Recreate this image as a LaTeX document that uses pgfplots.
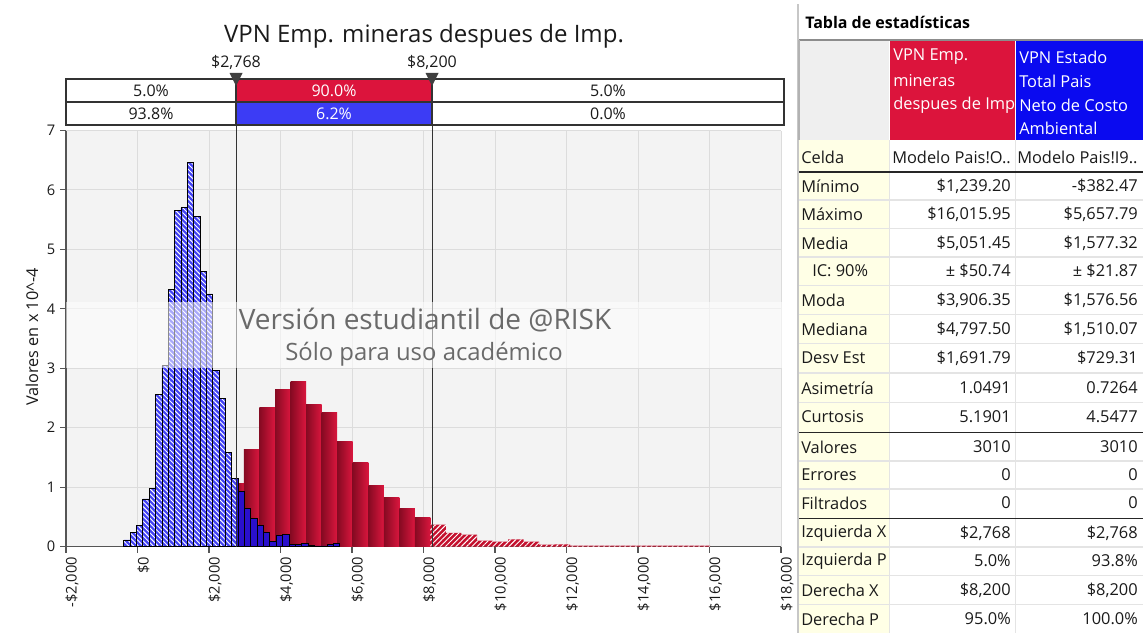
\documentclass[border=0pt]{standalone}
\usepackage{fontspec}
\setmainfont{Open Sans}
\usepackage{pgfplots}
\pgfplotsset{compat=1.18}
\usetikzlibrary{patterns.meta}

\definecolor{bggray}{HTML}{F3F3F3}
\definecolor{gridgray}{HTML}{DCDCDC}
\definecolor{axisgray}{HTML}{555555}
\definecolor{crimsoncol}{HTML}{DC143C}
\definecolor{cellblue}{HTML}{3C3CF5}
\definecolor{hdrblue}{HTML}{0A0AF0}
\definecolor{bluehatch}{HTML}{4242F4}
\definecolor{bluesolid}{HTML}{2A10CC}
\definecolor{reddark}{HTML}{860A22}
\definecolor{redlight}{HTML}{DA163E}
\definecolor{redhatch}{HTML}{C4102E}
\definecolor{yellowcol}{HTML}{FFFFE6}
\definecolor{hdrgray}{HTML}{EFEFEF}
\definecolor{tabline}{HTML}{E4E4E4}
\definecolor{tabtext}{HTML}{1A1A1A}
\definecolor{wmgray}{HTML}{6A6A6A}

\newcommand{\tabfont}{\fontsize{12.3}{14}\selectfont}
\newcommand{\trow}[4]{%
  \node[anchor=west,inner sep=0pt,font=\tabfont,text=tabtext] at (801,#1) {#2};
  \node[anchor=east,inner sep=0pt,font=\tabfont,text=tabtext] at (1011,#1) {#3};
  \node[anchor=east,inner sep=0pt,font=\tabfont,text=tabtext] at (1138,#1) {#4};}

\pgfplotsset{redbar/.style={ybar interval, draw=none, left color=reddark, right color=redlight}}

\begin{document}
\begin{tikzpicture}
\path[use as bounding box] (0,0) rectangle (857.25pt,474.75pt);
\begin{axis}[
  at={(49.5pt,64.875pt)}, anchor=south west,
  scale only axis, width=536.25pt, height=312pt,
  xmin=-2000, xmax=18000, ymin=0, ymax=7,
  scaled ticks=false,
  axis background/.style={fill=bggray},
  axis x line*=bottom, axis y line*=left,
  axis line style={draw=axisgray, line width=1.1pt, -},
  tick align=outside, major tick length=4.5pt,
  tick style={draw=axisgray, line width=0.8pt},
  grid=major, major grid style={draw=gridgray, line width=0.7pt},
  xtick={-2000,0,2000,4000,6000,8000,10000,12000,14000,16000,18000},
  xticklabels={{-\$2,000},{\$0},{\$2,000},{\$4,000},{\$6,000},{\$8,000},{\$10,000},{\$12,000},{\$14,000},{\$16,000},{\$18,000}},
  xticklabel style={rotate=90, anchor=east, yshift=-4.5pt, font=\fontsize{11}{13}\selectfont, text=tabtext},
  ytick={0,1,2,3,4,5,6,7},
  yticklabel style={font=\fontsize{11}{13}\selectfont, text=tabtext},
  /pgf/number format/assume math mode=true,
  clip=false,
]
% red left hatched
\addplot[ybar interval, fill=redhatch, draw=none,
  postaction={pattern={Lines[angle=45,distance=2.8pt,line width=0.7pt]}, pattern color=white}]
  coordinates {(1239.20,0.04) (1673.81,0.12) (2108.42,0.40) (2543.03,1.06) (2768,0)};
% red solid (one plot per bar so that each bar has its own shading)
\addplot[redbar] coordinates {(2768,1.06) (2977.64,0)};
\addplot[redbar] coordinates {(2977.64,1.63) (3412.25,0)};
\addplot[redbar] coordinates {(3412.25,2.34) (3846.86,0)};
\addplot[redbar] coordinates {(3846.86,2.64) (4281.47,0)};
\addplot[redbar] coordinates {(4281.47,2.77) (4716.08,0)};
\addplot[redbar] coordinates {(4716.08,2.39) (5150.69,0)};
\addplot[redbar] coordinates {(5150.69,2.26) (5585.30,0)};
\addplot[redbar] coordinates {(5585.30,1.76) (6019.91,0)};
\addplot[redbar] coordinates {(6019.91,1.42) (6454.52,0)};
\addplot[redbar] coordinates {(6454.52,1.02) (6889.13,0)};
\addplot[redbar] coordinates {(6889.13,0.82) (7323.74,0)};
\addplot[redbar] coordinates {(7323.74,0.64) (7758.35,0)};
\addplot[redbar] coordinates {(7758.35,0.48) (8192.96,0)};
% red right hatched
\addplot[ybar interval, fill=redhatch, draw=none,
  postaction={pattern={Lines[angle=45,distance=2.8pt,line width=0.7pt]}, pattern color=white}]
  coordinates {(8192.96,0.37) (8627.57,0.23) (9062.18,0.20) (9496.79,0.10) (9931.40,0.08) (10366.01,0.12) (10800.62,0.08) (11235.23,0.03) (11669.84,0.035) (12104.45,0.015) (12539.06,0.015) (12973.67,0.015) (13408.28,0.015) (13842.89,0.015) (14277.50,0.015) (14712.11,0.015) (15146.72,0.015) (15581.33,0.015) (16015.94,0)};
% blue left hatched
\addplot[ybar interval, fill=bluehatch, draw=black, line width=0.6pt,
  postaction={pattern={Lines[angle=-45,distance=2.6pt,line width=0.7pt]}, pattern color=white}]
  coordinates {(-382.47,0.11) (-204.87,0.23) (-27.27,0.36) (150.33,0.80) (327.93,0.98) (505.53,2.56) (683.13,3.04) (860.73,4.33) (1038.33,5.65) (1215.93,5.70) (1393.53,6.47) (1571.13,5.55) (1748.73,4.63) (1926.33,4.25) (2103.93,2.97) (2281.53,2.49) (2459.13,1.58) (2636.73,1.15) (2768,0)};
% blue solid
\addplot[ybar interval, fill=bluesolid, draw=black, line width=0.6pt]
  coordinates {(2768,1.15) (2814.33,0.93) (2991.93,0.64) (3169.53,0.47) (3347.13,0.35) (3524.73,0.24) (3702.33,0.09) (3879.93,0.18) (4057.53,0.20) (4235.13,0.03) (4412.73,0.03) (4590.33,0.05) (4767.93,0.02) (4945.53,0.01) (5123.13,0.01) (5300.73,0.03) (5478.33,0.05) (5655.93,0)};
\end{axis}

\begin{scope}[x=0.75pt,y=-0.75pt,shift={(0pt,474.75pt)}]
% marker lines
\draw[color=black!80, line width=0.7pt] (236,86) -- (236,546.5);
\draw[color=black!80, line width=0.7pt] (432,86) -- (432,546.5);
% watermark band
\fill[white, opacity=0.55] (66,302) rectangle (781.5,368);
\node[font=\fontsize{21}{24}\selectfont, text=wmgray] at (425,320) {Versión estudiantil de @RISK};
\node[font=\fontsize{17.9}{21}\selectfont, text=wmgray] at (424,354) {Sólo para uso académico};
% y label
\node[rotate=90, font=\fontsize{12.2}{14}\selectfont, text=tabtext] at (32,337) {Valores en x 10\textasciicircum-4};
% title
\node[font=\fontsize{18}{21}\selectfont, text=tabtext] at (424,36) {VPN Emp. mineras despues de Imp.};
% percent table
\fill[white] (66,79) rectangle (784,125);
\fill[crimsoncol] (236,79) rectangle (432,102);
\fill[cellblue] (236,102) rectangle (432,125);
\draw[color=black!80, line width=1.1pt] (66,79) rectangle (784,125);
\draw[color=black!80, line width=0.8pt] (66,102) -- (784,102);
\draw[color=black!80, line width=0.8pt] (236,79) -- (236,125) (432,79) -- (432,125);
\node[font=\fontsize{12}{14}\selectfont, text=tabtext] at (151,90.5) {5.0\%};
\node[font=\fontsize{12}{14}\selectfont, text=white] at (334,90.5) {90.0\%};
\node[font=\fontsize{12}{14}\selectfont, text=tabtext] at (608,90.5) {5.0\%};
\node[font=\fontsize{12}{14}\selectfont, text=tabtext] at (151,113.5) {93.8\%};
\node[font=\fontsize{12}{14}\selectfont, text=white] at (334,113.5) {6.2\%};
\node[font=\fontsize{12}{14}\selectfont, text=tabtext] at (608,113.5) {0.0\%};
% triangles and labels
\fill[color=black!75] (229.5,73) -- (242.5,73) -- (236,86) -- cycle;
\fill[color=black!75] (425.5,73) -- (438.5,73) -- (432,86) -- cycle;
\node[font=\fontsize{12}{14}\selectfont, text=tabtext] at (236,62) {\$2,768};
\node[font=\fontsize{12}{14}\selectfont, text=tabtext] at (432,62) {\$8,200};

% ===== statistics table =====
\fill[color=black!22] (796.5,4) rectangle (798.5,633);
\node[anchor=west, inner sep=0pt, font=\bfseries\fontsize{12}{14}\selectfont, text=black] at (805,22) {Tabla de estadísticas};
\fill[hdrgray] (799,40) rectangle (889,140);
\fill[crimsoncol] (890,40) rectangle (1015,140);
\fill[hdrblue] (1016,40) rectangle (1143,140);
\fill[yellowcol] (799,140) rectangle (889,633);
\foreach \yy in {200,228.5,257,285.5,314.5,343.5,373,402.5,461,489,547,575.5,604.5}
  \draw[color=tabline, line width=1pt] (799,\yy) -- (1143,\yy);
\draw[color=tabline, line width=1pt] (889.5,140) -- (889.5,633) (1015.5,140) -- (1015.5,633);
\draw[color=black!45, line width=0.8pt] (799,40) -- (1143,40);
\draw[color=black!30, line width=0.8pt] (799,40) -- (799,140);
\foreach \yy in {172,432.5,518.5}
  \draw[color=black!85, line width=1.4pt] (799,\yy) -- (1143,\yy);
\begin{scope}
\clip (890,40) rectangle (1015,172);
\node[anchor=west, inner sep=0pt, font=\tabfont, text=white] at (893,57) {VPN Emp.};
\node[anchor=west, inner sep=0pt, font=\tabfont, text=white] at (893,81) {mineras};
\node[anchor=west, inner sep=0pt, font=\tabfont, text=white] at (893,105) {despues de Imp};
\node[anchor=west, inner sep=0pt, font=\tabfont, text=tabtext] at (892,157) {Modelo Pais!O..};
\end{scope}
\begin{scope}
\clip (1016,40) rectangle (1143,172);
\node[anchor=west, inner sep=0pt, font=\tabfont, text=white] at (1019,57) {VPN Estado};
\node[anchor=west, inner sep=0pt, font=\tabfont, text=white] at (1019,81) {Total Pais};
\node[anchor=west, inner sep=0pt, font=\tabfont, text=white] at (1019,105) {Neto de Costo};
\node[anchor=west, inner sep=0pt, font=\tabfont, text=white] at (1019,128) {Ambiental};
\node[anchor=west, inner sep=0pt, font=\tabfont, text=tabtext] at (1017,157) {Modelo Pais!I9..};
\end{scope}
\node[anchor=west, inner sep=0pt, font=\tabfont, text=tabtext] at (801,157) {Celda};
\trow{186}{Mínimo}{\$1,239.20}{-\$382.47}
\trow{214}{Máximo}{\$16,015.95}{\$5,657.79}
\trow{243}{Media}{\$5,051.45}{\$1,577.32}
\node[anchor=west,inner sep=0pt,font=\tabfont,text=tabtext] at (812,271) {IC: 90\%};
\node[anchor=east,inner sep=0pt,font=\tabfont,text=tabtext] at (1011,271) {± \$50.74};
\node[anchor=east,inner sep=0pt,font=\tabfont,text=tabtext] at (1138,271) {± \$21.87};
\trow{300}{Moda}{\$3,906.35}{\$1,576.56}
\trow{329}{Mediana}{\$4,797.50}{\$1,510.07}
\trow{358}{Desv Est}{\$1,691.79}{\$729.31}
\trow{388}{Asimetría}{1.0491}{0.7264}
\trow{417}{Curtosis}{5.1901}{4.5477}
\trow{447}{Valores}{3010}{3010}
\trow{475}{Errores}{0}{0}
\trow{503}{Filtrados}{0}{0}
\trow{533}{Izquierda X}{\$2,768}{\$2,768}
\trow{561}{Izquierda P}{5.0\%}{93.8\%}
\trow{590}{Derecha X}{\$8,200}{\$8,200}
\trow{619}{Derecha P}{95.0\%}{100.0\%}
\end{scope}
\end{tikzpicture}
\end{document}
